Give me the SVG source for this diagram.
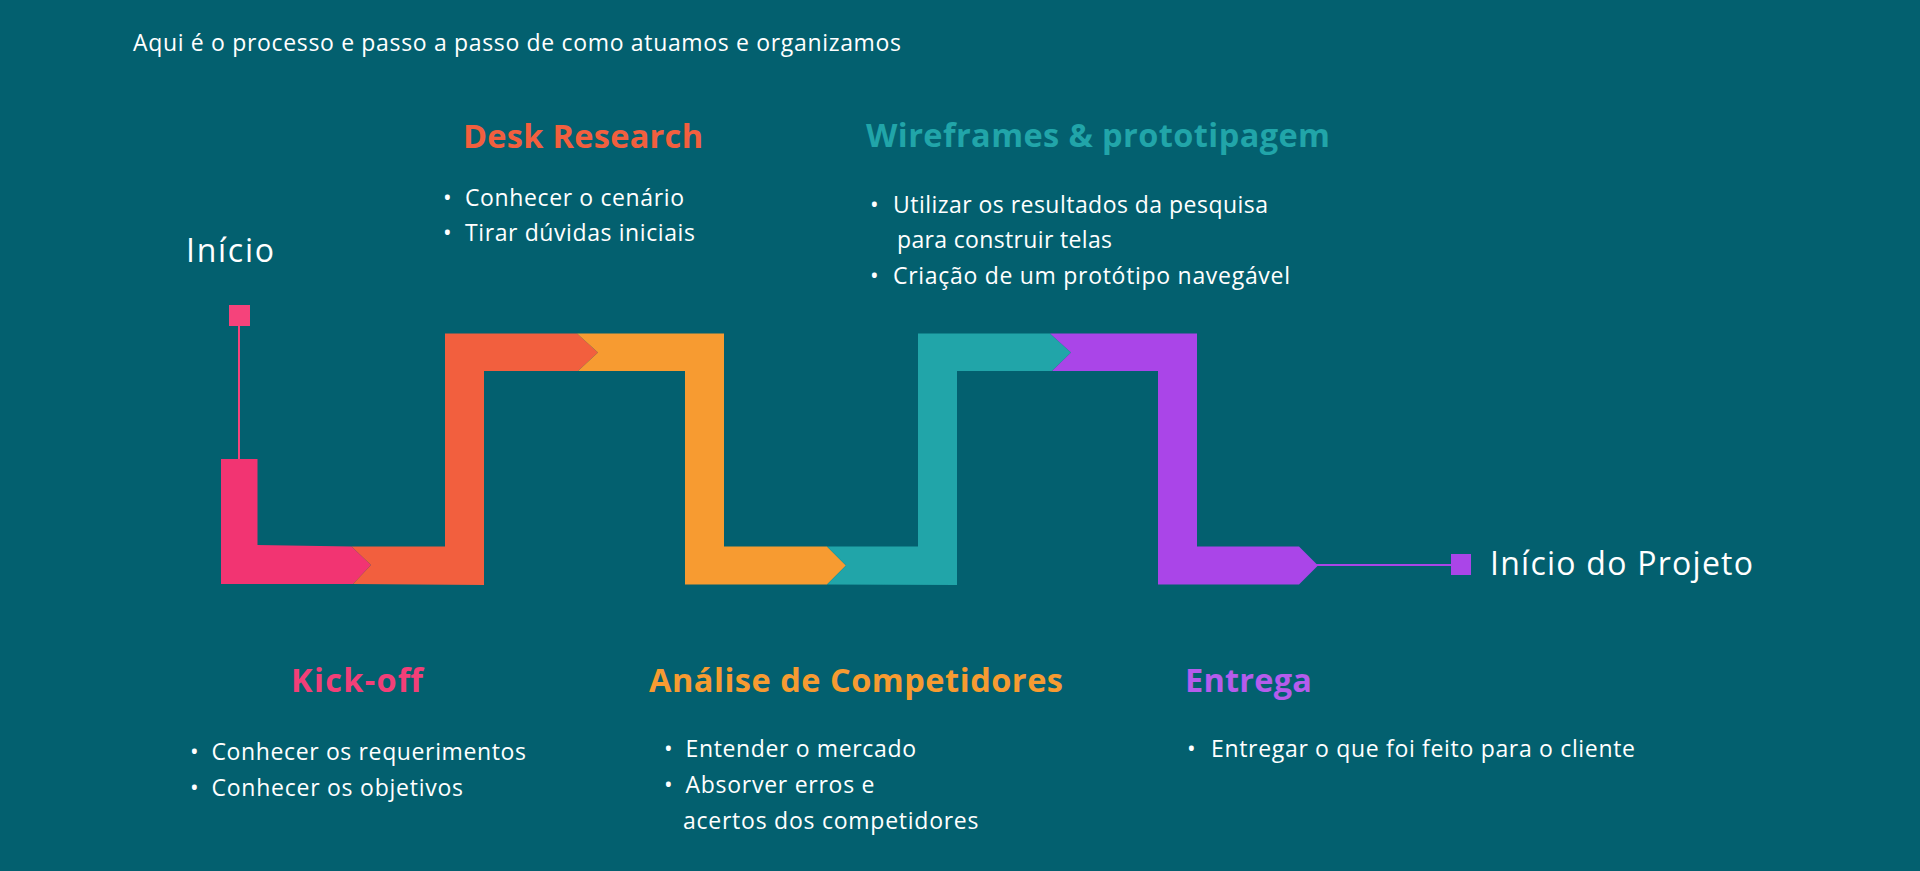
<svg xmlns="http://www.w3.org/2000/svg" width="1920" height="871" viewBox="0 0 1920 871">
<style>
.t{font-family:"Open Sans","Liberation Sans",sans-serif;fill:#ffffff;font-size:23px}
.h{font-family:"Open Sans","Liberation Sans",sans-serif;font-weight:700;font-size:32.5px}
.big{font-family:"Open Sans","Liberation Sans",sans-serif;fill:#ffffff;font-size:32px}
</style>
<rect width="1920" height="871" fill="#03606F"/>
<text class="t" x="133" y="51" font-size="22.5" textLength="768">Aqui é o processo e passo a passo de como atuamos e organizamos</text>

<g id="connectors">
  <line x1="239" y1="325" x2="239" y2="460" stroke="#F5437B" stroke-width="2"/>
  <line x1="1316" y1="565" x2="1452" y2="565" stroke="#AA45E8" stroke-width="2"/>
</g>

<g id="inicio">
  <rect x="229" y="305" width="21" height="21" fill="#F5437B"/>
  <text class="big" x="186" y="262" textLength="88">Início</text>
</g>

<g id="kickoff">
  <polygon points="221,459 257.5,459 257.5,545 351.5,546.5 371,565 353,584 221,584" fill="#F23472"/>
  <text class="h" x="291" y="692" fill="#F23F78" textLength="132">Kick-off</text>
  <text class="t" x="190" y="760">•</text>
  <text class="t" x="211.5" y="760" textLength="314.5">Conhecer os requerimentos</text>
  <text class="t" x="190" y="796">•</text>
  <text class="t" x="211.5" y="796" textLength="251.5">Conhecer os objetivos</text>
</g>

<g id="desk-research">
  <polygon points="351.5,546.5 445,546.5 445,333.5 577,333.5 598,352.5 578,371 484,371 484,585 353,584 371,565" fill="#F25F3E"/>
  <text class="h" x="463" y="148" fill="#F25F3E" textLength="240">Desk Research</text>
  <text class="t" x="443" y="206">•</text>
  <text class="t" x="465" y="206" textLength="219">Conhecer o cenário</text>
  <text class="t" x="443" y="241">•</text>
  <text class="t" x="465" y="241" textLength="230">Tirar dúvidas iniciais</text>
</g>

<g id="analise">
  <polygon points="577,333.5 724,333.5 724,546.5 827,546.5 846,565.5 827,584.5 685,584.5 685,371 578,371 598,352.5" fill="#F79B31"/>
  <text class="h" x="649" y="692" fill="#F79B31" textLength="414">Análise de Competidores</text>
  <text class="t" x="664" y="757">•</text>
  <text class="t" x="685.5" y="757" textLength="230.5">Entender o mercado</text>
  <text class="t" x="664" y="793">•</text>
  <text class="t" x="685.5" y="793" textLength="189">Absorver erros e</text>
  <text class="t" x="683" y="829" textLength="295.5">acertos dos competidores</text>
</g>

<g id="wireframes">
  <polygon points="827,546.5 918,546.5 918,333.5 1050,333.5 1071,352.5 1052,371 957,371 957,585 827,584.5 846,565.5" fill="#21A5A9"/>
  <text class="h" x="866" y="147" fill="#21A5A9" textLength="464">Wireframes &amp; prototipagem</text>
  <text class="t" x="870" y="213">•</text>
  <text class="t" x="893" y="213" textLength="375">Utilizar os resultados da pesquisa</text>
  <text class="t" x="897" y="248" textLength="215">para construir telas</text>
  <text class="t" x="870" y="284">•</text>
  <text class="t" x="893" y="284" textLength="397">Criação de um protótipo navegável</text>
</g>

<g id="entrega">
  <polygon points="1050,333.5 1197,333.5 1197,546.5 1299,546.5 1318,565.5 1299,584.5 1158,584.5 1158,371 1052,371 1071,352.5" fill="#AA45E8"/>
  <text class="h" x="1185" y="692" fill="#B55CEC" textLength="127">Entrega</text>
  <text class="t" x="1187" y="757">•</text>
  <text class="t" x="1211" y="757" textLength="424">Entregar o que foi feito para o cliente</text>
</g>

<g id="inicio-projeto">
  <rect x="1451" y="554" width="20" height="21" fill="#AA45E8"/>
  <text class="big" x="1490" y="575" font-size="30.5" textLength="263">Início do Projeto</text>
</g>
</svg>
